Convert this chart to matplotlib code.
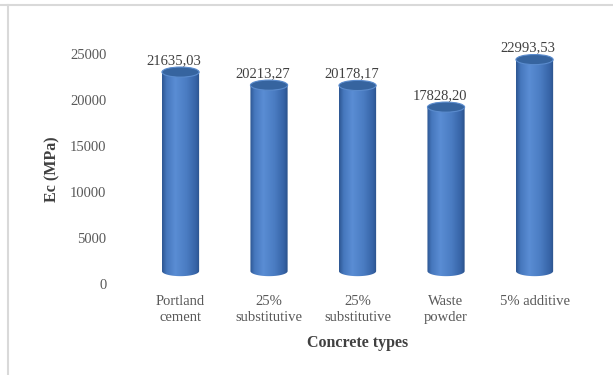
import numpy as np
import matplotlib
matplotlib.use("Agg")
import matplotlib.pyplot as plt
from matplotlib.colors import LinearSegmentedColormap
from matplotlib.patches import Ellipse, PathPatch
from matplotlib.path import Path
from matplotlib.lines import Line2D

# datos del grafico
categorias = ["Portland\ncement", "25%\nsubstitutive", "25%\nsubstitutive",
              "Waste\npowder", "5% additive"]
valores = [21635.03, 20213.27, 20178.17, 17828.20, 22993.53]
etiquetas = ["21635,03", "20213,27", "20178,17", "17828,20", "22993,53"]
ticks_y = [0, 5000, 10000, 15000, 20000, 25000]

plt.rcParams['font.family'] = ['Liberation Serif', 'DejaVu Serif']

fig = plt.figure(figsize=(6.13, 3.75), dpi=100)
ax = fig.add_axes([0.2223, 0.2427, 0.7219, 0.6133])

# marco gris de la imagen
fig.add_artist(Line2D([0.0, 1.0], [1 - 5 / 375, 1 - 5 / 375], color='#d9d9d9', lw=1.5,
                      transform=fig.transFigure))
fig.add_artist(Line2D([8 / 613, 8 / 613], [0, 1 - 5 / 375], color='#d9d9d9', lw=1.5,
                      transform=fig.transFigure))

# cilindros con degradado (efecto 3D)
cmap = LinearSegmentedColormap.from_list(
    'cil', [(0.0, '#2c5590'), (0.12, '#4677bd'), (0.35, '#5a8dd4'),
            (0.65, '#4a7cc2'), (0.9, '#3663a6'), (1.0, '#2a5089')])
grad = np.linspace(0, 1, 256).reshape(1, -1)

ancho = 0.42
elev = 1400      # desplazamiento del piso 3D
alto_elipse = 1100

for i, v in enumerate(valores):
    x0, x1 = i - ancho / 2, i + ancho / 2
    tope = v + elev
    t = np.linspace(np.pi, 2 * np.pi, 40)
    arco_x = i + ancho / 2 * np.cos(t)
    arco_y = elev + alto_elipse / 2 * np.sin(t)
    verts = [(x0, tope)] + list(zip(arco_x, arco_y)) + [(x1, tope), (x0, tope)]
    codes = [Path.MOVETO] + [Path.LINETO] * (len(verts) - 2) + [Path.CLOSEPOLY]
    cuerpo = PathPatch(Path(verts, codes), facecolor='none', edgecolor='none')
    ax.add_patch(cuerpo)
    im = ax.imshow(grad, cmap=cmap, aspect='auto', interpolation='bicubic',
                   extent=(x0, x1, elev - alto_elipse, tope), zorder=2)
    im.set_clip_path(cuerpo)
    ax.add_patch(Ellipse((i, tope), ancho, alto_elipse, facecolor='#36649f',
                         edgecolor='#5a8bcd', lw=0.8, zorder=3))
    ax.annotate(etiquetas[i], xy=(i, v), xytext=(-4.5, 17.6), textcoords='offset points',
                ha='center', va='center', fontsize=10.5, color='#404040',
                annotation_clip=False)

ax.set_xlim(-0.5, 4.5)
ax.set_ylim(0, 25000)
ax.set_xticks(range(len(categorias)))
ax.set_xticklabels(categorias, fontsize=10.5, color='#595959', linespacing=1.3)
ax.set_yticks(ticks_y)
ax.set_yticklabels([str(t) for t in ticks_y], fontsize=10.5, color='#595959')
ax.tick_params(axis='y', length=0, pad=21.5)
ax.tick_params(axis='x', length=0, pad=8)
for s in ax.spines.values():
    s.set_visible(False)

ax.set_ylabel('Ec (MPa)', fontsize=11.5, fontweight='bold', color='#404040')
ax.yaxis.set_label_coords(-0.172, 0.5)
ax.set_xlabel('Concrete types', fontsize=11.5, fontweight='bold', color='#404040',
              va='center')
ax.xaxis.set_label_coords(0.5, -0.2565)

fig.savefig('out.png', dpi=100)
